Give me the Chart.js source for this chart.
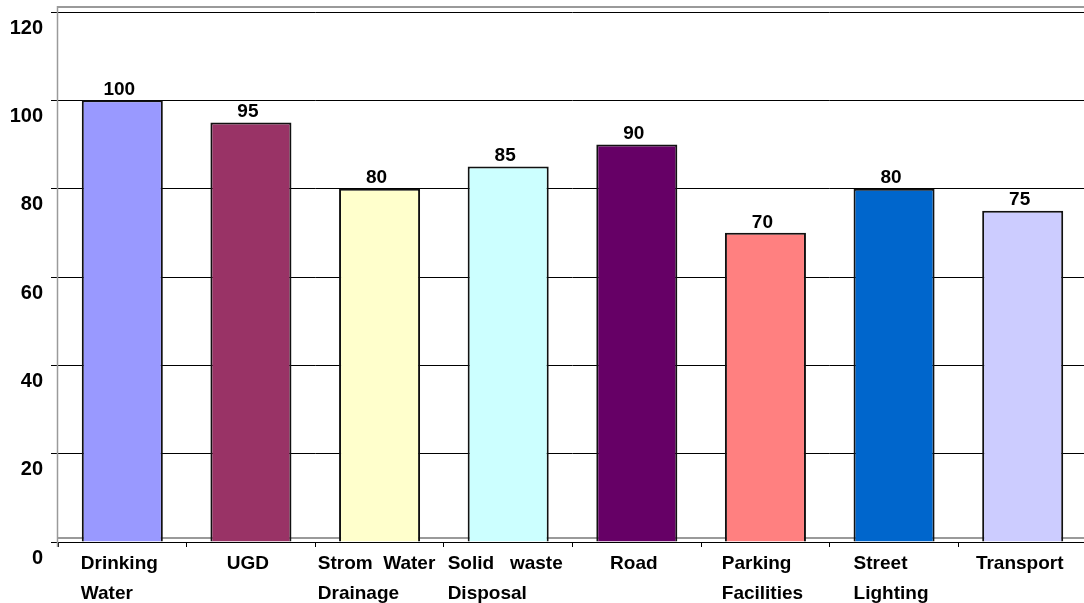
<!DOCTYPE html>
<html>
<head>
<meta charset="utf-8">
<script src="https://cdn.jsdelivr.net/npm/chart.js@4/dist/chart.umd.min.js"></script>
<style>
  html, body { margin: 0; padding: 0; background: #fff; overflow: hidden; }
  #wrap { position: relative; width: 1090px; height: 603px; }
</style>
</head>
<body>
<div id="wrap"><canvas id="chart"></canvas></div>
<script>
// Service categories (multi-line labels) and their coverage values
const categories = [
  ["Drinking", "Water"],
  ["UGD"],
  ["Strom  Water", "Drainage"],
  ["Solid   waste", "Disposal"],
  ["Road"],
  ["Parking", "Facilities"],
  ["Street", "Lighting"],
  ["Transport"]
];
const values = [100, 95, 80, 85, 90, 70, 80, 75];
const barColors = ["#9999FF", "#993366", "#FFFFCC", "#CCFFFF", "#660066", "#FF8080", "#0066CC", "#CCCCFF"];
const yMin = 0, yMax = 120, yStep = 20;

const FONT_FAMILY = '"Liberation Sans", Arial, sans-serif';
const FONT_SIZE = 19;
const FONT = 'bold ' + FONT_SIZE + 'px ' + FONT_FAMILY;

// gray plot frame lines (top edge and inner bottom edge) and the y-axis line
const framePlugin = {
  id: 'frame',
  beforeDatasetsDraw(chart) {
    const { ctx, chartArea } = chart;
    ctx.save();
    ctx.strokeStyle = '#9a9a9a';
    ctx.lineWidth = 2;
    ctx.beginPath();
    ctx.moveTo(chartArea.left, chartArea.top - 5);
    ctx.lineTo(chartArea.right + 5, chartArea.top - 5);
    ctx.stroke();
    ctx.beginPath();
    ctx.moveTo(chartArea.left, chartArea.bottom - 4);
    ctx.lineTo(chartArea.right + 5, chartArea.bottom - 4);
    ctx.stroke();
    ctx.lineWidth = 1.5;
    ctx.beginPath();
    ctx.moveTo(chartArea.left - 0.5, chartArea.top - 6);
    ctx.lineTo(chartArea.left - 0.5, chartArea.bottom + 5);
    ctx.stroke();
    ctx.restore();
  }
};

// value labels above each bar
const valueLabelPlugin = {
  id: 'valueLabels',
  afterDatasetsDraw(chart) {
    const { ctx } = chart;
    const meta = chart.getDatasetMeta(0);
    ctx.save();
    ctx.font = FONT;
    ctx.fillStyle = '#000';
    ctx.textAlign = 'center';
    ctx.textBaseline = 'bottom';
    meta.data.forEach((bar, i) => {
      ctx.fillText(String(values[i]), bar.x - 3, bar.y - 1);
    });
    ctx.restore();
  }
};

// category labels: left-aligned lines, block centred on each category
const categoryLabelPlugin = {
  id: 'categoryLabels',
  afterDraw(chart) {
    const { ctx } = chart;
    const xs = chart.scales.x;
    ctx.save();
    ctx.font = FONT;
    ctx.fillStyle = '#000';
    ctx.textAlign = 'left';
    ctx.textBaseline = 'alphabetic';
    categories.forEach((lines, i) => {
      const cx = xs.getPixelForValue(i);
      const w = Math.max(...lines.map(l => ctx.measureText(l).width));
      const left = cx - w / 2 - 3;
      lines.forEach((line, j) => {
        ctx.fillText(line, left, xs.top + 27 + j * 30);
      });
    });
    ctx.restore();
  }
};

new Chart(document.getElementById('chart'), {
  type: 'bar',
  data: {
    labels: categories.map(l => l.join(' ')),
    datasets: [{
      data: values,
      backgroundColor: barColors,
      borderColor: '#111',
      borderWidth: 2,
      barPercentage: 0.63,
      categoryPercentage: 1.0
    }]
  },
  options: {
    responsive: true,
    maintainAspectRatio: false,
    animation: false,
    layout: { padding: { top: 12, right: 3, left: 0, bottom: 0 } },
    plugins: {
      legend: { display: false },
      tooltip: { enabled: false }
    },
    scales: {
      x: {
        grid: {
          display: true,
          drawOnChartArea: false,
          drawTicks: true,
          tickLength: 5,
          offset: true,
          color: '#000',
          lineWidth: 1
        },
        border: { display: false },
        ticks: { display: false },
        afterFit(scale) {
          scale.height = 61;
          scale.paddingLeft = 0;
          scale.paddingRight = 0;
        }
      },
      y: {
        min: yMin,
        max: yMax,
        grid: {
          color: '#000',
          lineWidth: 1,
          tickLength: 7,
          drawTicks: true
        },
        border: { display: false },
        ticks: {
          stepSize: yStep,
          color: '#000',
          font: { family: FONT_FAMILY, size: 20, weight: 'bold' },
          padding: 8,
          labelOffset: 16
        },
        afterFit(scale) {
          scale.width = 58;
          scale.paddingTop = 0;
          scale.paddingBottom = 0;
        }
      }
    }
  },
  plugins: [framePlugin, valueLabelPlugin, categoryLabelPlugin]
});
</script>
</body>
</html>
